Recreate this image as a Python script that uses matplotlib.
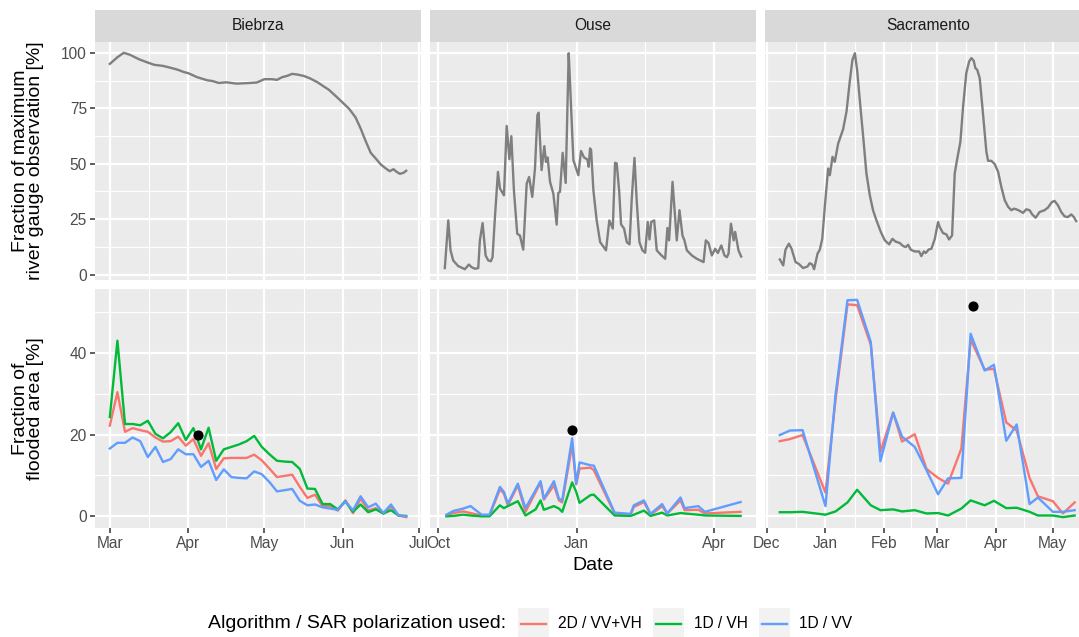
import numpy as np
import matplotlib
matplotlib.use("Agg")
import matplotlib.pyplot as plt
import matplotlib.dates as mdates
from matplotlib.ticker import MultipleLocator, FixedLocator, FuncFormatter
from matplotlib.patches import Rectangle
from matplotlib.lines import Line2D

plt.rcParams['font.family'] = ['Liberation Sans', 'DejaVu Sans']

# ---------------- data ----------------
sites = ["Biebrza", "Ouse", "Sacramento"]
site_start = ["2015-03-01", "2015-10-01", "2016-12-01"]
month_step = [1, 3, 1]

series_labels = ["2D / VV+VH", "1D / VH", "1D / VV"]
series_colors = ["#F8766D", "#00BA38", "#619CFF"]
gauge_color = "#7F7F7F"

# river gauge (fraction of max, %), day offsets from site start
biebrza_gauge_day = [0, 3, 5.5, 8, 11.5, 15, 17.5, 21, 24.5, 27, 29, 31, 34.5, 38.5, 40.5, 43, 46, 50, 54, 58,
                     61, 64, 66, 68, 70, 72, 74, 76.5, 79, 82, 84.5, 86.5, 89, 91.5, 94.5, 97, 99, 101, 103, 105,
                     107, 109, 110.5, 112, 113, 114.5, 116, 117]
biebrza_gauge_val = [95.0, 98.0, 100.0, 99.1, 97.1, 95.6, 94.6, 94.1, 93.1, 92.3, 91.4, 90.8, 89.0, 87.6, 87.3, 86.4,
                     86.7, 86.1, 86.3, 86.6, 88.1, 88.1, 87.8, 89.0, 89.6, 90.5, 90.2, 89.6, 88.5, 86.7, 84.8, 83.3,
                     80.7, 78.0, 74.7, 70.9, 65.9, 60.2, 54.9, 52.3, 49.6, 47.8, 46.6, 47.5, 46.5, 45.4, 45.9, 46.8]

ouse_gauge_day = [4.4, 6.7, 8.2, 10.0, 13.3, 17.7, 20.4, 22.2, 24.4, 26.6,
                  27.7, 29.5, 31.5, 33.3, 35.0, 36.1, 37.7, 39.7, 41.0, 43.7,
                  45.5, 47.3, 48.6, 50.3, 52.5, 54.3, 56.5, 58.8, 60.4, 62.5,
                  64.3, 65.9, 66.7, 68.7, 70.5, 71.6, 72.7, 74.3, 76.5, 78.7,
                  79.8, 80.9, 82.7, 84.7, 86.7, 87.6, 89.8, 93.1, 94.9, 96.9,
                  99.1, 100.0, 100.9, 101.6, 103.1, 105.3, 107.6, 111.5, 113.7, 116.0,
                  117.5, 118.6, 120.2, 121.5, 123.5, 125.3, 127.1, 128.6, 130.4, 132.0,
                  133.7, 135.7, 137.5, 139.2, 140.4, 141.5, 143.5, 145.2, 147.9, 150.8,
                  152.3, 153.4, 155.7, 158.5, 160.3, 162.3, 163.6, 165.2, 168.5, 171.8,
                  176.3, 177.8, 179.6, 181.8, 184.0, 185.8, 188.1, 190.2, 191.8, 192.9,
                  194.5, 196.3, 197.3, 199.5, 201.3]
ouse_gauge_val = [2.9, 24.4, 10.9, 6.3, 3.8, 2.4, 4.5, 3.3, 2.6, 2.9,
                  15.4, 23.2, 8.6, 6.3, 6.0, 7.8, 25.9, 46.3, 38.8, 35.7,
                  67.0, 52.0, 62.4, 38.0, 18.4, 17.6, 11.2, 41.0, 44.0, 35.0,
                  47.8, 71.9, 73.0, 47.1, 57.9, 50.8, 52.8, 41.8, 36.5, 22.5,
                  36.8, 37.3, 54.9, 41.3, 99.8, 86.3, 51.6, 44.8, 55.7, 52.8,
                  51.9, 48.6, 56.9, 56.1, 38.0, 24.4, 14.6, 10.9, 24.4, 20.7,
                  50.4, 50.1, 38.0, 22.6, 20.7, 14.6, 13.6, 34.2, 52.6, 32.0,
                  14.6, 10.9, 9.8, 23.7, 15.8, 23.7, 24.4, 10.9, 8.9, 7.1,
                  21.0, 15.4, 41.8, 15.4, 29.0, 17.6, 15.4, 10.9, 8.6, 7.1,
                  5.6, 15.4, 14.2, 8.6, 11.6, 9.7, 13.1, 8.6, 7.8, 9.4,
                  22.9, 15.4, 19.2, 10.9, 8.1]

sac_gauge_day = [7.0, 8.8, 10.0, 11.8, 13.2, 15.3, 17.0, 19.3, 21.6, 22.8,
                 24.1, 25.1, 26.9, 28.1, 29.4, 30.8, 32.5, 33.4, 34.8, 36.0,
                 37.8, 40.4, 42.2, 43.9, 45.3, 46.6, 47.8, 49.2, 51.0, 52.7,
                 54.5, 56.2, 58.0, 60.3, 62.4, 64.7, 66.4, 68.0, 70.3, 72.1,
                 73.5, 74.7, 76.1, 78.2, 80.5, 81.7, 83.0, 84.0, 85.6, 87.0,
                 88.8, 90.5, 91.4, 93.1, 94.9, 96.3, 97.9, 99.3, 100.5, 102.3,
                 103.7, 105.4, 106.9, 108.1, 109.3, 110.2, 111.2, 112.5, 114.2, 116.0,
                 116.9, 118.6, 120.4, 122.2, 123.9, 125.7, 127.5, 129.2, 130.6, 131.8,
                 133.6, 135.3, 137.1, 138.8, 140.2, 142.0, 144.1, 146.7, 148.5, 150.6,
                 152.0, 153.8, 155.5, 157.3, 159.0, 160.8, 162.2, 163.4]
sac_gauge_val = [6.8, 4.1, 11.2, 13.9, 11.6, 5.6, 4.8, 2.9, 3.6, 5.1,
                 4.5, 2.4, 9.4, 11.2, 16.1, 31.2, 47.8, 44.8, 53.1, 50.8,
                 59.1, 65.5, 73.5, 87.0, 96.8, 99.8, 92.3, 78.7, 62.1, 45.6,
                 35.7, 29.0, 24.4, 19.2, 15.4, 13.6, 16.1, 14.9, 14.2, 12.8,
                 12.4, 13.4, 11.2, 10.4, 10.4, 8.3, 10.4, 9.7, 11.3, 11.6,
                 16.1, 23.7, 21.4, 18.7, 18.1, 15.8, 17.6, 45.6, 51.6, 59.9,
                 75.7, 90.8, 96.1, 97.6, 96.5, 93.1, 92.3, 88.5, 72.7, 55.4,
                 51.3, 51.3, 49.8, 46.3, 39.5, 33.5, 30.5, 29.0, 29.7, 29.4,
                 28.7, 27.8, 29.4, 29.0, 27.1, 25.6, 28.2, 29.0, 30.2, 32.7,
                 33.2, 31.2, 28.2, 26.2, 25.9, 27.1, 25.9, 24.1]

# flooded area (%) from SAR, day offsets from site start
biebrza_sar_day = [0, 3, 6, 9, 12, 15, 18, 21, 24, 27, 30, 33, 36, 39, 42, 45, 48, 51, 54, 57,
                   60, 63, 66, 69, 72, 75, 78, 81, 84, 87, 90, 93, 96, 99, 102, 105, 108, 111, 114, 117]
biebrza_2d = [22.2, 30.4, 20.7, 21.6, 21.1, 20.7, 19.3, 18.3, 18.4, 19.5, 17.3, 18.9, 14.8, 17.9, 11.6, 14.2,
              14.3, 14.3, 14.3, 15.1, 13.7, 11.7, 9.6, 9.9, 10.2, 7.2, 4.5, 5.3, 2.5, 2.5, 1.4, 3.9, 0.8, 4.3,
              1.4, 2.0, 0.6, 2.4, 0.2, -0.2]
biebrza_vh = [24.3, 43.0, 22.6, 22.6, 22.3, 23.4, 20.2, 19.1, 20.6, 22.8, 18.7, 21.6, 16.4, 21.7, 13.6, 16.4,
              17.0, 17.6, 18.4, 19.7, 17.0, 15.2, 13.6, 13.4, 13.3, 11.6, 6.8, 6.7, 3.0, 3.0, 1.7, 3.7, 1.1, 2.9,
              1.0, 1.7, 0.7, 1.5, 0.2, 0.1]
biebrza_vv = [16.6, 18.0, 18.0, 19.3, 18.4, 14.5, 17.0, 13.3, 14.0, 16.4, 15.2, 15.2, 12.1, 13.6, 8.9, 11.5,
              9.6, 9.4, 9.3, 11.0, 10.3, 8.4, 6.1, 6.4, 6.7, 3.8, 2.7, 2.9, 2.2, 1.9, 1.6, 3.6, 1.5, 4.9,
              2.2, 3.1, 0.8, 2.9, 0.2, 0.0]

ouse_sar_day = [5.5, 10.0, 16.6, 21.5, 28.8, 34.1, 41.0, 43.6, 46.3, 52.9,
                58.0, 64.7, 68.0, 70.2, 76.9, 80.2, 82.4, 89.0, 91.7, 93.9,
                101.2, 103.4, 117.2, 127.8, 130.0, 136.7, 141.1, 148.8, 152.2, 161.0,
                163.7, 172.8, 177.2, 200.9]
ouse_2d = [0.2, 0.8, 1.2, 0.8, 0.2, 0.2, 6.6, 5.6, 2.7, 7.6,
           1.1, 5.9, 8.3, 4.1, 7.6, 3.9, 3.4, 17.5, 7.8, 11.7,
           11.9, 11.3, 0.7, 0.4, 2.3, 3.5, 0.4, 2.5, 0.7, 3.9,
           1.5, 1.6, 0.7, 1.1]
ouse_vh = [0.0, 0.1, 0.4, 0.2, 0.0, 0.0, 2.7, 2.0, 2.5, 3.7,
           0.2, 1.7, 3.9, 1.6, 2.5, 1.9, 1.1, 8.3, 6.0, 3.3,
           5.2, 5.3, 0.2, 0.1, 0.4, 1.4, 0.1, 0.9, 0.2, 0.8,
           0.7, 0.4, 0.2, 0.1]
ouse_vv = [0.4, 1.3, 1.9, 2.5, 0.4, 0.4, 7.2, 6.0, 3.1, 8.0,
           2.0, 6.4, 8.6, 4.3, 8.6, 4.3, 3.9, 19.1, 8.0, 13.2,
           12.5, 12.4, 0.9, 0.6, 2.7, 3.9, 0.6, 3.0, 0.7, 4.6,
           2.0, 2.5, 1.1, 3.5]

sac_sar_day = [7.0, 12.3, 19.0, 31.1, 36.4, 42.7, 47.8, 55.0, 60.1, 66.8, 71.5, 78.2, 84.4,
               90.5, 95.8, 102.8, 107.7, 115.1, 120.0, 126.5, 132.0, 138.8, 143.2, 151.1, 156.4, 162.6]
sac_2d = [18.4, 18.9, 19.9, 5.8, 28.5, 51.9, 51.7, 42.0, 15.8, 25.4, 18.3, 20.1, 11.6,
          9.4, 8.0, 16.6, 43.3, 35.9, 36.1, 23.0, 21.0, 9.4, 4.9, 3.7, 0.7, 3.4]
sac_vh = [1.0, 1.0, 1.1, 0.4, 1.2, 3.4, 6.5, 2.7, 1.5, 1.7, 1.2, 1.5, 0.7,
          0.8, 0.2, 1.9, 3.9, 2.7, 3.8, 2.0, 2.1, 1.1, 0.2, 0.2, -0.2, 0.2]
sac_vv = [19.9, 21.0, 21.1, 2.5, 29.8, 52.9, 53.0, 42.7, 13.5, 25.4, 19.5, 17.0, 11.3,
          5.4, 9.3, 9.4, 44.7, 35.7, 37.1, 18.5, 22.5, 3.0, 4.6, 1.1, 1.1, 1.5]

# reference (event) observation
event_day = [34.9, 89.0, 109.0]
event_val = [19.9, 21.1, 51.5]

gauge_days = [biebrza_gauge_day, ouse_gauge_day, sac_gauge_day]
gauge_vals = [biebrza_gauge_val, ouse_gauge_val, sac_gauge_val]
sar_days = [biebrza_sar_day, ouse_sar_day, sac_sar_day]
sar_vals = [[biebrza_2d, biebrza_vh, biebrza_vv],
            [ouse_2d, ouse_vh, ouse_vv],
            [sac_2d, sac_vh, sac_vv]]

y_titles = ["Fraction of maximum\nriver gauge observation [%]", "Fraction of\nflooded area [%]"]

# ---------------- layout (pixels) ----------------
W, H = 1079, 637
fig = plt.figure(figsize=(W / 100, H / 100), dpi=100)
fig.patch.set_facecolor("white")

def fx(px):
    return px / W

def fy(py):
    return 1 - py / H

col_left = [95, 430, 765]
panel_w = 326
row_top = [42, 289]
row_bot = [280, 528]
strip_top = 10

SMALL = 11.2
LARGE = 14
LW = 1.7

def expand(lo, hi, f=0.05):
    r = hi - lo
    return lo - f * r, hi + f * r

# y limits per row (shared)
all_g = np.concatenate([np.asarray(v) for v in gauge_vals])
row0_lim = expand(all_g.min(), all_g.max())
all_s = np.concatenate([np.asarray(v) for s in sar_vals for v in s] + [np.asarray(event_val)])
row1_lim = expand(all_s.min(), all_s.max())
ylims = [row0_lim, row1_lim]
ymajor = [25, 20]

fmt_num = FuncFormatter(lambda v, p: f"{v:g}")

for c, site in enumerate(sites):
    base = mdates.date2num(np.datetime64(site_start[c]))
    gx = base + np.asarray(gauge_days[c])
    sx = base + np.asarray(sar_days[c])
    ex = base + event_day[c]
    xmin = min(gx.min(), sx.min(), ex)
    xmax = max(gx.max(), sx.max(), ex)
    xlim = expand(xmin, xmax)

    # strip
    sax = fig.add_axes([fx(col_left[c]), fy(row_top[0]), panel_w / W, (row_top[0] - strip_top) / H])
    sax.set_facecolor("#D9D9D9")
    sax.set_xticks([]); sax.set_yticks([])
    for s in sax.spines.values():
        s.set_visible(False)
    sax.text(0.5, 0.5, site, ha="center", va="center", fontsize=SMALL, color="#1A1A1A",
             transform=sax.transAxes)

    for r in range(2):
        ax = fig.add_axes([fx(col_left[c]), fy(row_bot[r]), panel_w / W, (row_bot[r] - row_top[r]) / H])
        ax.set_facecolor("#EBEBEB")
        for s in ax.spines.values():
            s.set_visible(False)
        ax.set_xlim(*xlim)
        ax.set_ylim(*ylims[r])

        # x ticks
        if month_step[c] == 1:
            loc = mdates.MonthLocator()
        else:
            loc = mdates.MonthLocator(bymonth=[1, 4, 7, 10])
        majors = [t for t in loc.tick_values(mdates.num2date(xlim[0]), mdates.num2date(xlim[1]))
                  if xlim[0] <= t <= xlim[1]]
        minors = []
        if len(majors) > 1:
            step = majors[1] - majors[0]
            ext = [majors[0] - step] + majors + [majors[-1] + step]
            for a, b in zip(ext[:-1], ext[1:]):
                m = (a + b) / 2
                if xlim[0] <= m <= xlim[1]:
                    minors.append(m)
        ax.xaxis.set_major_locator(FixedLocator(majors))
        ax.xaxis.set_minor_locator(FixedLocator(minors))
        ax.xaxis.set_major_formatter(mdates.DateFormatter("%b"))

        # y ticks
        ax.yaxis.set_major_locator(MultipleLocator(ymajor[r]))
        ax.yaxis.set_minor_locator(MultipleLocator(ymajor[r] / 2))
        ax.yaxis.set_major_formatter(fmt_num)

        ax.grid(which="major", color="white", linewidth=1.6)
        ax.grid(which="minor", color="white", linewidth=0.8)
        ax.set_axisbelow(True)
        ax.tick_params(which="minor", length=0)
        ax.tick_params(which="major", direction="out", length=3.6, width=1.1, color="#333333",
                       labelsize=SMALL, labelcolor="#4D4D4D", pad=2.2)
        if r == 0:
            ax.tick_params(axis="x", which="major", length=0, labelbottom=False)
        if c > 0:
            ax.tick_params(axis="y", which="major", length=0, labelleft=False)

        if r == 0:
            ax.plot(gx, gauge_vals[c], color=gauge_color, lw=LW, solid_joinstyle="round", zorder=3)
        else:
            for k in range(3):
                ax.plot(sx, sar_vals[c][k], color=series_colors[k], lw=LW,
                        solid_joinstyle="round", zorder=3 + k)
            ax.plot([ex], [event_val[c]], "o", color="black", markersize=6.3, zorder=10)

# y-axis titles
for r in range(2):
    yc = (row_top[r] + row_bot[r]) / 2
    fig.text(fx(28), fy(yc), y_titles[r], rotation=90, ha="center", va="center",
             multialignment="center", fontsize=LARGE, linespacing=0.85, color="black")

# x-axis title
fig.text(fx((col_left[0] + col_left[2] + panel_w) / 2), fy(565), "Date", ha="center", va="center",
         fontsize=LARGE, color="black")

# legend
leg_y = 624
fig.text(fx(208), fy(leg_y), "Algorithm / SAR polarization used:", ha="left", va="center",
         fontsize=LARGE, color="black")
key_x = [518, 653, 759]
lab_x = [558, 694, 799]
for k in range(3):
    fig.add_artist(Rectangle((fx(key_x[k]), fy(640)), 31 / W, 32 / H, transform=fig.transFigure,
                             facecolor="#F2F2F2", edgecolor="none"))
    fig.add_artist(Line2D([fx(key_x[k] + 3), fx(key_x[k] + 28)], [fy(leg_y), fy(leg_y)],
                          transform=fig.transFigure, color=series_colors[k], lw=LW))
    fig.text(fx(lab_x[k]), fy(leg_y), series_labels[k], ha="left", va="center",
             fontsize=SMALL, color="black")

fig.savefig("out.png", dpi=100)
